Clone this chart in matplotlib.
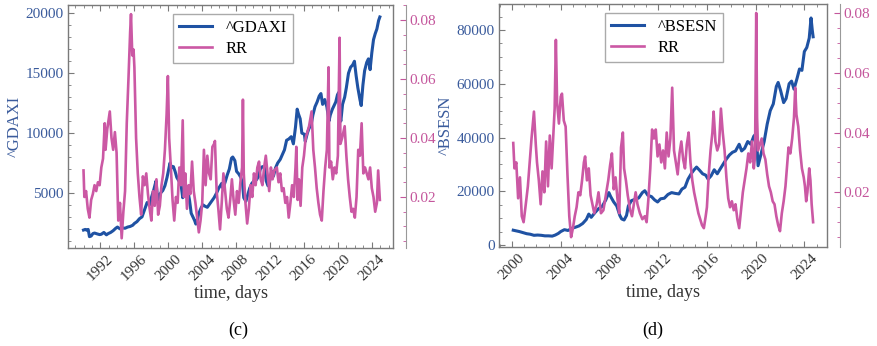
import matplotlib
matplotlib.use("Agg")
import matplotlib.pyplot as plt
from matplotlib.ticker import MultipleLocator, FixedLocator

plt.rcParams['font.family'] = ['Liberation Serif', 'DejaVu Serif']

BLUE = '#1f52a3'
PINK = '#cb58a4'
BLUE_TXT = '#3a5b9c'
PINK_TXT = '#c4569c'
FRAME = '#7a7a7a'

# ---- panel (c): ^GDAXI ----
gdaxi_t = [1990.0, 1990.2, 1990.4, 1990.55, 1990.7, 1990.9, 1991.1, 1991.3, 1991.6, 1991.9,
           1992.1, 1992.4, 1992.7, 1992.9, 1993.2, 1993.5, 1993.8, 1994.0, 1994.3, 1994.6,
           1994.9, 1995.2, 1995.5, 1995.8, 1996.0, 1996.3, 1996.6, 1996.9, 1997.2, 1997.5,
           1997.8, 1998.0, 1998.3, 1998.55, 1998.75, 1998.9, 1999.1, 1999.35, 1999.6, 1999.85,
           2000.05, 2000.2, 2000.4, 2000.6, 2000.8, 2001.0, 2001.25, 2001.5, 2001.7, 2001.9,
           2002.1, 2002.3, 2002.5, 2002.7, 2002.9, 2003.1, 2003.25, 2003.45, 2003.6, 2003.9,
           2004.1, 2004.3, 2004.6, 2004.9, 2005.1, 2005.4, 2005.7, 2005.95, 2006.3, 2006.45,
           2006.7, 2006.95, 2007.2, 2007.45, 2007.6, 2007.85, 2008.05, 2008.3, 2008.55, 2008.75,
           2008.9, 2009.15, 2009.35, 2009.6, 2009.85, 2010.1, 2010.4, 2010.65, 2010.85, 2011.1,
           2011.35, 2011.55, 2011.75, 2011.95, 2012.2, 2012.4, 2012.65, 2012.9, 2013.2, 2013.45,
           2013.7, 2013.95, 2014.2, 2014.5, 2014.75, 2015.0, 2015.2, 2015.35, 2015.55, 2015.75,
           2016.05, 2016.15, 2016.4, 2016.6, 2016.85, 2017.05, 2017.3, 2017.55, 2017.8, 2018.0,
           2018.2, 2018.45, 2018.7, 2018.95, 2019.1, 2019.35, 2019.55, 2019.75, 2019.95, 2020.1,
           2020.2, 2020.35, 2020.55, 2020.8, 2021.0, 2021.25, 2021.5, 2021.75, 2021.95, 2022.15,
           2022.35, 2022.6, 2022.75, 2022.95, 2023.15, 2023.4, 2023.6, 2023.8, 2024.0, 2024.2,
           2024.4, 2024.6, 2024.8, 2024.95]
gdaxi_v = [1900, 1950, 1880, 1950, 1350, 1400, 1600, 1650, 1580, 1520,
           1550, 1700, 1500, 1600, 1700, 1850, 2050, 2150, 2000, 2080,
           2050, 2150, 2200, 2300, 2450, 2600, 2850, 3000, 3600, 4200,
           4000, 4600, 5300, 6000, 4400, 4700, 5000, 5200, 5600, 6300,
           7000, 7500, 7100, 7200, 6800, 6300, 6000, 5700, 4600, 5000,
           5100, 5200, 4400, 3300, 3000, 2700, 2400, 2800, 3300, 3800,
           4000, 3900, 3800, 4100, 4300, 4600, 5000, 5400, 5800, 5400,
           5900, 6500, 7000, 7900, 8000, 7700, 6800, 6600, 6300, 5800,
           4600, 4300, 4800, 5400, 5800, 6000, 6100, 6400, 7000, 7200,
           7100, 6000, 5600, 6000, 6800, 6400, 7100, 7500, 7800, 8200,
           8600, 9400, 9500, 9700, 9100, 10500, 12000, 11600, 11200, 10000,
           9900, 9300, 10000, 10400, 10700, 11500, 12200, 12600, 13100, 13300,
           12400, 12800, 12200, 11000, 11500, 12000, 12300, 12600, 13200, 13400,
           11500, 11000, 12400, 13000, 13800, 15000, 15500, 15700, 16000, 14800,
           13800, 12800, 12300, 14000, 15200, 15900, 16200, 15300, 16700, 17800,
           18300, 18700, 19400, 19700]

rr_c_t = [1990.0, 1990.1, 1990.3, 1990.5, 1990.7, 1990.9, 1991.1, 1991.3, 1991.5, 1991.7,
          1991.9, 1992.1, 1992.3, 1992.5, 1992.6, 1992.8, 1993.0, 1993.1, 1993.3, 1993.5,
          1993.7, 1993.9, 1994.1, 1994.3, 1994.5, 1994.7, 1994.9, 1995.1, 1995.3, 1995.5,
          1995.6, 1995.75, 1995.9, 1996.0, 1996.2, 1996.4, 1996.6, 1996.8, 1997.0, 1997.2,
          1997.4, 1997.6, 1997.8, 1998.0, 1998.2, 1998.4, 1998.6, 1998.8, 1999.0, 1999.2,
          1999.4, 1999.6, 1999.8, 1999.95, 2000.1, 2000.3, 2000.5, 2000.7, 2000.9, 2001.1,
          2001.3, 2001.5, 2001.7, 2001.85, 2002.0, 2002.2, 2002.4, 2002.6, 2002.8, 2003.0,
          2003.2, 2003.4, 2003.6, 2003.8, 2004.0, 2004.2, 2004.4, 2004.6, 2004.8, 2005.0,
          2005.2, 2005.4, 2005.5, 2005.7, 2005.9, 2006.1, 2006.3, 2006.5, 2006.7, 2006.9,
          2007.1, 2007.3, 2007.5, 2007.7, 2007.9, 2008.1, 2008.3, 2008.5, 2008.7, 2008.8,
          2008.9, 2009.1, 2009.3, 2009.5, 2009.7, 2009.9, 2010.1, 2010.3, 2010.5, 2010.7,
          2010.9, 2011.1, 2011.3, 2011.5, 2011.7, 2011.9, 2012.1, 2012.3, 2012.5, 2012.8,
          2013.0, 2013.2, 2013.4, 2013.6, 2013.8, 2014.0, 2014.2, 2014.4, 2014.6, 2014.8,
          2015.0, 2015.1, 2015.25, 2015.4, 2015.6, 2015.8, 2016.0, 2016.2, 2016.4, 2016.6,
          2016.9, 2017.1, 2017.3, 2017.5, 2017.7, 2017.9, 2018.1, 2018.3, 2018.5, 2018.7,
          2018.9, 2019.0, 2019.2, 2019.4, 2019.6, 2019.8, 2020.0, 2020.2, 2020.3, 2020.5,
          2020.8, 2021.0, 2021.2, 2021.4, 2021.6, 2021.8, 2022.0, 2022.2, 2022.4, 2022.6,
          2022.8, 2023.0, 2023.2, 2023.4, 2023.6, 2023.8, 2024.0, 2024.2, 2024.4, 2024.6,
          2024.75, 2024.95]
rr_c_v = [0.029, 0.020, 0.022, 0.016, 0.013, 0.019, 0.021, 0.024, 0.022, 0.025,
          0.024, 0.030, 0.033, 0.045, 0.036, 0.043, 0.047, 0.049, 0.040, 0.036,
          0.042, 0.035, 0.012, 0.018, 0.006, 0.015, 0.022, 0.045, 0.060, 0.076,
          0.082, 0.068, 0.070, 0.064, 0.040, 0.028, 0.020, 0.014, 0.027, 0.024,
          0.028, 0.021, 0.016, 0.012, 0.022, 0.017, 0.026, 0.014, 0.017, 0.024,
          0.028, 0.036, 0.048, 0.061, 0.040, 0.030, 0.019, 0.012, 0.020, 0.018,
          0.030, 0.024, 0.046, 0.020, 0.028, 0.016, 0.024, 0.021, 0.032, 0.022,
          0.018, 0.013, 0.008, 0.012, 0.018, 0.036, 0.024, 0.034, 0.028, 0.026,
          0.037, 0.038, 0.039, 0.022, 0.016, 0.009, 0.018, 0.028, 0.022, 0.016,
          0.013, 0.019, 0.026, 0.019, 0.014, 0.022, 0.018, 0.025, 0.030, 0.053,
          0.028, 0.018, 0.011, 0.016, 0.024, 0.020, 0.028, 0.024, 0.030, 0.032,
          0.026, 0.024, 0.030, 0.034, 0.028, 0.022, 0.030, 0.026, 0.029, 0.030,
          0.025, 0.028, 0.022, 0.023, 0.018, 0.020, 0.013, 0.018, 0.024, 0.020,
          0.030, 0.037, 0.019, 0.026, 0.017, 0.030, 0.034, 0.040, 0.042, 0.044,
          0.049, 0.036, 0.030, 0.023, 0.018, 0.014, 0.012, 0.022, 0.030, 0.036,
          0.064, 0.030, 0.032, 0.026, 0.030, 0.028, 0.034, 0.074, 0.038, 0.040,
          0.044, 0.034, 0.026, 0.020, 0.015, 0.016, 0.013, 0.020, 0.036, 0.034,
          0.045, 0.028, 0.030, 0.028, 0.026, 0.030, 0.023, 0.020, 0.015, 0.018,
          0.029, 0.019]

# ---- panel (d): ^BSESN ----
bsesn_t = [2000.1, 2000.3, 2000.6, 2000.9, 2001.2, 2001.5, 2001.8, 2002.1, 2002.4, 2002.7,
           2003.0, 2003.3, 2003.55, 2003.8, 2004.0, 2004.3, 2004.6, 2004.9, 2005.2, 2005.5,
           2005.8, 2006.1, 2006.3, 2006.5, 2006.8, 2007.1, 2007.4, 2007.7, 2007.95, 2008.1,
           2008.35, 2008.6, 2008.85, 2009.0, 2009.2, 2009.4, 2009.55, 2009.8, 2010.1, 2010.4,
           2010.7, 2010.9, 2011.15, 2011.45, 2011.7, 2011.95, 2012.2, 2012.5, 2012.8, 2013.1,
           2013.4, 2013.7, 2013.95, 2014.2, 2014.45, 2014.75, 2014.95, 2015.15, 2015.4, 2015.65,
           2015.9, 2016.1, 2016.35, 2016.6, 2016.85, 2017.05, 2017.35, 2017.6, 2017.85, 2018.1,
           2018.35, 2018.65, 2018.85, 2019.1, 2019.35, 2019.6, 2019.85, 2020.05, 2020.2, 2020.45,
           2020.7, 2020.95, 2021.2, 2021.45, 2021.7, 2021.85, 2022.05, 2022.3, 2022.5, 2022.75,
           2022.95, 2023.15, 2023.4, 2023.6, 2023.8, 2024.0, 2024.2, 2024.4, 2024.55, 2024.65,
           2024.72]
bsesn_v = [5500, 5300, 5000, 4600, 4200, 4000, 3600, 3700, 3600, 3400,
           3400, 3300, 3700, 4300, 5000, 5700, 5400, 6200, 6600, 7100,
           8000, 9500, 11500, 10300, 12000, 13500, 14300, 16800, 19500, 18000,
           16000, 14500, 11000, 9700, 9300, 11000, 14500, 16500, 17000, 17500,
           19500, 20200, 18500, 18000, 16800, 16000, 17200, 17400, 18800, 19500,
           19200, 19000, 20800, 21500, 24500, 26800, 28000, 29000, 27800, 26500,
           26000, 24500, 25800, 28000, 26500, 28000, 30200, 32000, 33500, 34500,
           35000, 37500, 35000, 36000, 38500, 37500, 40500, 41500, 29500, 34000,
           38500, 45000, 50000, 52500, 59000, 60500, 57500, 53000, 54500, 60000,
           61000, 58000, 62000, 65500, 65000, 72000, 73500, 77000, 84500, 80000,
           77500]

rr_d_t = [2000.1, 2000.2, 2000.35, 2000.5, 2000.65, 2000.8, 2000.95, 2001.1, 2001.3, 2001.45,
          2001.6, 2001.8, 2001.95, 2002.05, 2002.2, 2002.35, 2002.5, 2002.65, 2002.8, 2002.95,
          2003.1, 2003.25, 2003.4, 2003.5, 2003.6, 2003.7, 2003.85, 2004.0, 2004.1, 2004.25,
          2004.4, 2004.55, 2004.7, 2004.85, 2005.0, 2005.15, 2005.3, 2005.45, 2005.6, 2005.75,
          2005.9, 2006.0, 2006.15, 2006.3, 2006.45, 2006.6, 2006.75, 2006.95, 2007.1, 2007.3,
          2007.5, 2007.7, 2007.9, 2008.05, 2008.2, 2008.35, 2008.5, 2008.65, 2008.8, 2008.95,
          2009.1, 2009.2, 2009.35, 2009.5, 2009.7, 2009.85, 2010.0, 2010.15, 2010.3, 2010.5,
          2010.7, 2010.9, 2011.05, 2011.2, 2011.35, 2011.5, 2011.65, 2011.8, 2011.95, 2012.1,
          2012.25, 2012.4, 2012.55, 2012.7, 2012.85, 2013.0, 2013.15, 2013.3, 2013.45, 2013.6,
          2013.75, 2013.9, 2014.05, 2014.2, 2014.35, 2014.5, 2014.65, 2014.8, 2014.95, 2015.1,
          2015.3, 2015.45, 2015.6, 2015.75, 2015.9, 2016.0, 2016.15, 2016.3, 2016.45, 2016.55,
          2016.7, 2016.85, 2017.0, 2017.15, 2017.3, 2017.45, 2017.6, 2017.75, 2017.9, 2018.05,
          2018.2, 2018.35, 2018.5, 2018.65, 2018.8, 2018.95, 2019.1, 2019.25, 2019.4, 2019.55,
          2019.7, 2019.85, 2019.95, 2020.05, 2020.12, 2020.2, 2020.35, 2020.5, 2020.65, 2020.8,
          2020.95, 2021.1, 2021.25, 2021.4, 2021.55, 2021.7, 2021.85, 2022.0, 2022.15, 2022.3,
          2022.45, 2022.6, 2022.7, 2022.85, 2023.0, 2023.15, 2023.25, 2023.35, 2023.5, 2023.65,
          2023.8, 2023.95, 2024.05, 2024.15, 2024.25, 2024.4, 2024.5, 2024.6, 2024.72]
rr_d_v = [0.0365, 0.028, 0.030, 0.018, 0.025, 0.012, 0.010, 0.015, 0.022, 0.030,
          0.038, 0.047, 0.036, 0.030, 0.024, 0.016, 0.027, 0.020, 0.037, 0.022,
          0.039, 0.028, 0.040, 0.048, 0.071, 0.050, 0.043, 0.052, 0.053, 0.044,
          0.042, 0.026, 0.012, 0.005, 0.008, 0.012, 0.015, 0.020, 0.019, 0.024,
          0.030, 0.032, 0.024, 0.028, 0.019, 0.016, 0.013, 0.016, 0.020, 0.013,
          0.014, 0.019, 0.024, 0.029, 0.033, 0.021, 0.025, 0.018, 0.013, 0.035,
          0.040, 0.028, 0.024, 0.019, 0.014, 0.012, 0.016, 0.020, 0.016, 0.013,
          0.011, 0.012, 0.010, 0.018, 0.028, 0.041, 0.038, 0.041, 0.032, 0.036,
          0.030, 0.034, 0.028, 0.040, 0.032, 0.038, 0.055, 0.034, 0.030, 0.026,
          0.033, 0.037, 0.031, 0.028, 0.036, 0.040, 0.030, 0.024, 0.020, 0.017,
          0.013, 0.011, 0.009, 0.008, 0.012, 0.015, 0.026, 0.034, 0.040, 0.047,
          0.037, 0.034, 0.036, 0.048, 0.040, 0.034, 0.025, 0.018, 0.015, 0.017,
          0.014, 0.016, 0.011, 0.008, 0.014, 0.020, 0.024, 0.028, 0.033, 0.030,
          0.037, 0.028, 0.032, 0.080, 0.045, 0.034, 0.036, 0.038, 0.033, 0.031,
          0.026, 0.022, 0.020, 0.017, 0.016, 0.012, 0.009, 0.007, 0.013, 0.017,
          0.022, 0.030, 0.035, 0.033, 0.038, 0.045, 0.055, 0.046, 0.042, 0.034,
          0.028, 0.025, 0.022, 0.017, 0.020, 0.028, 0.024, 0.016, 0.010]

fig = plt.figure(figsize=(8.77, 3.46), dpi=100)
W, H = 877.0, 346.0


def panel(box, t, v, rt, rv, name, xlim, ylim, rylim, xticks, ymajor, yminor, caption, capx):
    x0, y0, x1, y1 = box
    ax = fig.add_axes([x0 / W, 1 - y1 / H, (x1 - x0) / W, (y1 - y0) / H])
    l1, = ax.plot(t, v, color=BLUE, lw=2.2, label=name)
    ax.set_xlim(*xlim)
    ax.set_ylim(*ylim)
    ax.xaxis.set_major_locator(FixedLocator(xticks))
    ax.xaxis.set_minor_locator(MultipleLocator(1))
    ax.set_xticklabels([str(y) for y in xticks], rotation=45, ha='center',
                       fontsize=11, color='#333333')
    ax.yaxis.set_major_locator(MultipleLocator(ymajor))
    ax.yaxis.set_minor_locator(MultipleLocator(yminor))
    ax.tick_params(axis='y', labelsize=11, labelcolor=BLUE_TXT, pad=3)
    ax.tick_params(which='both', direction='in', top=True, color=FRAME)
    ax.tick_params(which='major', length=4)
    ax.tick_params(which='minor', length=2)
    for s in ax.spines.values():
        s.set_color(FRAME)
        s.set_linewidth(1.0)
    ax.set_ylabel(name, fontsize=12, color=BLUE_TXT, labelpad=2)
    ax.set_xlabel('time, days', fontsize=13, color='#333333', labelpad=1)

    ax2 = ax.twinx()
    l2, = ax2.plot(rt, rv, color=PINK, lw=1.9, label='RR')
    ax2.set_ylim(*rylim)
    ax2.spines['right'].set_position(('outward', 9))
    ax2.spines['right'].set_color('#999999')
    for s in ['top', 'left', 'bottom']:
        ax2.spines[s].set_visible(False)
    ax2.yaxis.set_major_locator(MultipleLocator(0.02))
    ax2.yaxis.set_minor_locator(MultipleLocator(0.005))
    ax2.tick_params(axis='y', which='both', direction='in', labelsize=11,
                    labelcolor=PINK_TXT, color=PINK_TXT, pad=3)
    ax2.tick_params(which='major', length=4)
    ax2.tick_params(which='minor', length=2)
    ax2.set_yticklabels(['%.2f' % y for y in ax2.get_yticks()])

    ax2.legend(handles=[l1, l2], loc='upper left', bbox_to_anchor=(0.323, 0.962),
               fontsize=12, frameon=True, fancybox=False, framealpha=1,
               edgecolor='#aaaaaa', handlelength=2.0, handletextpad=0.8,
               borderpad=0.35, labelspacing=0.3, borderaxespad=0)
    fig.text(capx / W, 1 - 330 / H, caption, ha='center', va='center', fontsize=13)
    return ax, ax2


panel((68, 5, 393, 248), gdaxi_t, gdaxi_v, rr_c_t, rr_c_v, '^GDAXI',
      (1988.17, 2026.5), (400, 20700), (0.0027, 0.0851),
      [1992, 1996, 2000, 2004, 2008, 2012, 2016, 2020, 2024], 5000, 1000, '(c)', 238)
panel((499, 4, 827, 247), bsesn_t, bsesn_v, rr_d_t, rr_d_v, '^BSESN',
      (1998.93, 2025.86), (-750, 89700), (0.0017, 0.083),
      [2000, 2004, 2008, 2012, 2016, 2020, 2024], 20000, 5000, '(d)', 653)

fig.savefig('out.png', dpi=100)
